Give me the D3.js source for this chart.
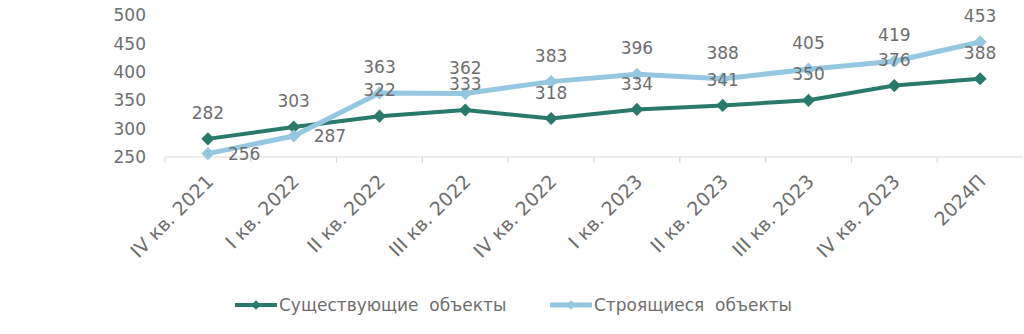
<!DOCTYPE html>
<html>
<head>
<meta charset="utf-8">
<script src="https://cdn.jsdelivr.net/npm/d3@7"></script>
<style>
  body { margin: 0; background: #fff; }
  svg text { font-family: Verdana, "DejaVu Sans", sans-serif; fill: #6e6e6e; white-space: pre; }
</style>
</head>
<body>
<svg></svg>
<script>
const categories = ["IV кв. 2021", "I кв. 2022", "II кв. 2022", "III кв. 2022", "IV кв. 2022",
  "I кв. 2023", "II кв. 2023", "III кв. 2023", "IV кв. 2023", "2024П"];
const existing = [282, 303, 322, 333, 318, 334, 341, 350, 376, 388];
const building = [256, 287, 363, 362, 383, 396, 388, 405, 419, 453];
const yTicks = [250, 300, 350, 400, 450, 500];
const seriesNames = ["Существующие  объекты", "Строящиеся  объекты"];
const colors = ["#2a7a6b", "#95c8e0"];

const width = 1024;
const height = 334;

const svg = d3.select("svg").attr("width", width).attr("height", height);

const x = d3.scaleBand().domain(categories).range([165, 1023]);
const y = d3.scaleLinear().domain([250, 500]).range([157, 15.3]);

// y labels, no axis line
svg.append("g")
  .selectAll("text")
  .data(yTicks)
  .enter()
  .append("text")
  .attr("x", 146)
  .attr("y", (d) => y(d))
  .attr("dy", "0.36em")
  .attr("text-anchor", "end")
  .attr("font-size", 17)
  .text((d) => d);

// x axis line with tick marks
const xAxis = svg.append("g").attr("transform", `translate(0,${y(250)})`);
xAxis.append("line")
  .attr("x1", 165).attr("x2", 1023)
  .attr("stroke", "#d9d9d9").attr("stroke-width", 1.2);
xAxis.selectAll("line.tick")
  .data(categories)
  .enter()
  .append("line")
  .attr("class", "tick")
  .attr("x1", (d) => x(d)).attr("x2", (d) => x(d))
  .attr("y1", 0).attr("y2", 6)
  .attr("stroke", "#d9d9d9").attr("stroke-width", 1.2);
xAxis.selectAll("text")
  .data(categories)
  .enter()
  .append("text")
  .attr("text-anchor", "end")
  .attr("font-size", 19)
  .attr("transform", (d) => `translate(${x(d) + x.bandwidth() / 2 + 2},${21}) rotate(-45)`)
  .attr("dy", "0.35em")
  .text((d) => d);

const cx = (i) => x(categories[i]) + x.bandwidth() / 2;
const diamond = d3.symbol().type(d3.symbolDiamond2).size(110);

const drawSeries = (values, color, lineWidth) => {
  const g = svg.append("g");
  g.append("path")
    .datum(values)
    .attr("fill", "none")
    .attr("stroke", color)
    .attr("stroke-width", lineWidth)
    .attr("stroke-linejoin", "round")
    .attr("d", d3.line().x((d, i) => cx(i)).y((d) => y(d)));
  g.selectAll("path.m")
    .data(values)
    .enter()
    .append("path")
    .attr("class", "m")
    .attr("fill", color)
    .attr("transform", (d, i) => `translate(${cx(i)},${y(d)})`)
    .attr("d", diamond);
};

drawSeries(existing, colors[0], 4);
drawSeries(building, colors[1], 5);

// data labels
svg.append("g")
  .selectAll("text")
  .data(existing)
  .enter()
  .append("text")
  .attr("x", (d, i) => cx(i))
  .attr("y", (d) => y(d) - 26)
  .attr("dy", "0.36em")
  .attr("text-anchor", "middle")
  .attr("font-size", 17)
  .text((d) => d);

svg.append("g")
  .selectAll("text")
  .data(building)
  .enter()
  .append("text")
  .attr("x", (d, i) => (i < 2 ? cx(i) + 20 : cx(i)))
  .attr("y", (d, i) => (i < 2 ? y(d) : y(d) - 26))
  .attr("dy", "0.36em")
  .attr("text-anchor", (d, i) => (i < 2 ? "start" : "middle"))
  .attr("font-size", 17)
  .text((d) => d);

// legend
const legendX = [235, 550];
const legend = svg.append("g")
  .selectAll("g")
  .data(seriesNames)
  .enter()
  .append("g")
  .attr("transform", (d, i) => `translate(${legendX[i]},305)`);
legend.append("line")
  .attr("x1", 0).attr("x2", 42)
  .attr("stroke", (d, i) => colors[i])
  .attr("stroke-width", (d, i) => (i ? 5 : 4));
legend.append("path")
  .attr("transform", "translate(21,0)")
  .attr("fill", (d, i) => colors[i])
  .attr("d", d3.symbol().type(d3.symbolDiamond2).size(60));
legend.append("text")
  .attr("x", 44)
  .attr("dy", "0.36em")
  .attr("font-size", 17)
  .text((d) => d);
</script>
</body>
</html>
